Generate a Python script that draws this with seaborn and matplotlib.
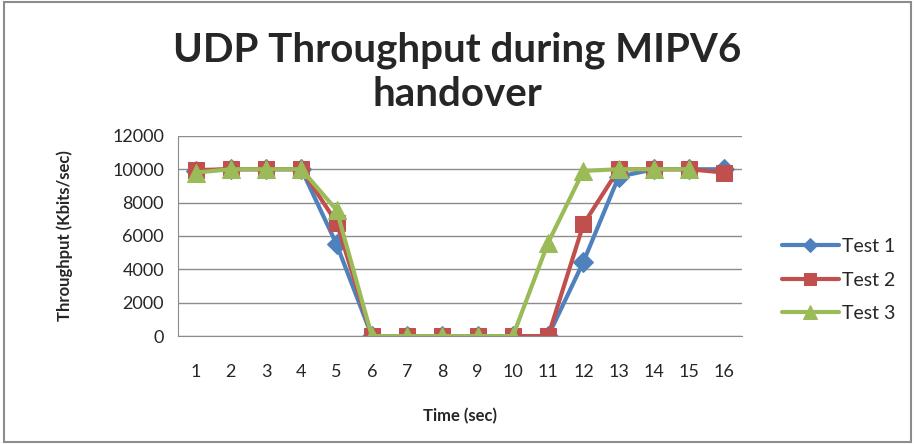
import numpy as np
import pandas as pd
import seaborn as sns
import matplotlib.pyplot as plt

# data
time_sec = list(range(1, 17))
test1 = [9900, 10000, 10000, 10000, 5500, 0, 0, 0, 0, 0, 0, 4450, 9550, 10000, 10000, 10000]
test2 = [9950, 10000, 10000, 10000, 6800, 0, 0, 0, 0, 0, 0, 6700, 10000, 10000, 10000, 9800]
test3 = [9800, 10000, 10000, 10000, 7550, 0, 0, 0, 0, 0, 5600, 9900, 10000, 10000, 10000, np.nan]

sns.set_style("white")
plt.rcParams['font.family'] = ['Lato', 'DejaVu Sans']

fig = plt.figure(figsize=(9.15, 4.44), dpi=100)
ax = fig.add_axes([0.1945, 0.243, 0.6165, 0.451])

series = [("Test 1", test1, "#4F81BD", "D", 10),
          ("Test 2", test2, "#C0504D", "s", 11),
          ("Test 3", test3, "#9BBB59", "^", 13)]
for name, vals, col, mk, ms in series:
    df = pd.DataFrame({"t": time_sec, "v": vals}).dropna()
    sns.lineplot(data=df, x="t", y="v", ax=ax, color=col, marker=mk, markersize=ms,
                 markeredgecolor=col, linewidth=3, label=name)

ax.set_xlim(0.5, 16.5)
ax.set_ylim(0, 12000)
ax.set_yticks(range(0, 12001, 2000))
ax.set_xticks(time_sec)
ax.yaxis.grid(True, color="#8C8C8C", linewidth=1)
ax.xaxis.grid(False)
for s in ["top", "right"]:
    ax.spines[s].set_visible(False)
ax.spines["left"].set_color("#8C8C8C")
ax.spines["bottom"].set_color("#8C8C8C")
ax.tick_params(axis="both", labelsize=13, length=0, pad=10)
ax.tick_params(axis="x", pad=20)

ax.set_xlabel("Time (sec)", fontsize=12, fontweight="bold", labelpad=20)
ax.set_ylabel("Throughput (Kbits/sec)", fontsize=12, fontweight="bold", labelpad=28)
fig.suptitle("UDP Throughput during MIPV6\nhandover", fontsize=29, fontweight="bold",
             y=0.93, linespacing=1.25)

ax.legend(loc="center left", bbox_to_anchor=(1.04, 0.28), frameon=False, fontsize=14,
          handlelength=2.9, labelspacing=0.85, handletextpad=0.2, markerscale=0.75)

fig.patches.append(plt.Rectangle((0.004, 0.004), 0.992, 0.992, transform=fig.transFigure,
                                 fill=False, edgecolor="#8C8C8C", linewidth=1.5))
fig.savefig("out.png", dpi=100)
